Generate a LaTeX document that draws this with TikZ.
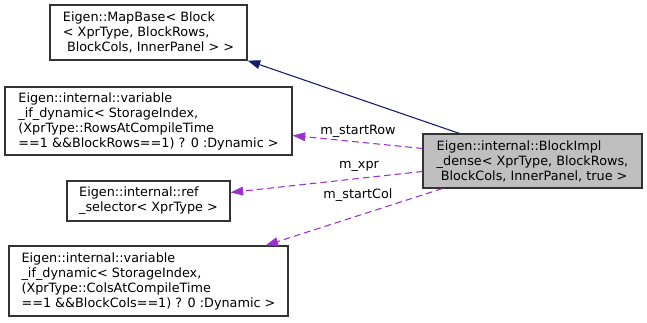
\documentclass[tikz,border=0pt]{standalone}
\usepackage{fontspec}
\setmainfont{DejaVu Sans}
\usetikzlibrary{calc,arrows.meta}
\begin{document}
\begin{tikzpicture}[x=0.75pt,y=-0.75pt,
  every node/.style={font=\fontsize{9.6pt}{11.25pt}\selectfont},
  classbox/.style={draw=black!80,line width=0.8pt,align=left,inner sep=0pt},
  focusbox/.style={classbox,fill=black!25},
  inherit/.style={draw={rgb,255:red,25;green,25;blue,112},line width=0.8pt,
    -{Triangle[length=9.5pt,width=6.5pt]}},
  member/.style={draw={rgb,255:red,154;green,50;blue,205},line width=0.8pt,
    dash pattern=on 5pt off 3pt,
    -{Triangle[length=9.5pt,width=6.5pt,fill={rgb,255:red,154;green,50;blue,205}]}},
  lbl/.style={inner sep=0pt}]
\useasboundingbox (0,0) rectangle (647,322);

\node[classbox,minimum width=197*0.75pt,minimum height=55*0.75pt] (A) at (148.5,32.5)
  {Eigen::MapBase< Block\\< XprType, BlockRows,\\\ BlockCols, InnerPanel > >};
\node[classbox,minimum width=287*0.75pt,minimum height=68*0.75pt] (B) at (148.5,121)
  {Eigen::internal::variable\\\_if\_dynamic< StorageIndex,\\(XprType::RowsAtCompileTime\\==1 \&\&BlockRows==1) ? 0 :Dynamic >};
\node[classbox,minimum width=163*0.75pt,minimum height=40*0.75pt] (C) at (148.5,201)
  {Eigen::internal::ref\\\_selector< XprType >};
\node[classbox,minimum width=279*0.75pt,minimum height=70*0.75pt] (D) at (148.5,281)
  {Eigen::internal::variable\\\_if\_dynamic< StorageIndex,\\(XprType::ColsAtCompileTime\\==1 \&\&BlockCols==1) ? 0 :Dynamic >};
\node[focusbox,minimum width=219*0.75pt,minimum height=54*0.75pt] (E) at (532.5,161)
  {Eigen::internal::BlockImpl\\\_dense< XprType, BlockRows,\\\ BlockCols, InnerPanel, true >};

% inheritance
\draw[inherit] ($(E.north west)+(37,0)$) -- (A.south east);
% member relations
\draw[member] ($(E.north west)+(0,15)$) -- ($(B.north east)+(0,49)$);
\draw[member] ($(E.north west)+(0,38)$) -- ($(C.north east)+(0,12)$);
\draw[member] ($(E.south west)+(20,0)$) -- ($(D.north east)+(-23,0)$);
% member names
\node[lbl] (l1) at (358,131) {m\_startRow};
\node[lbl] (l2) at (359,166) {m\_xpr};
\node[lbl] (l3) at (358,195) {m\_startCol};
\end{tikzpicture}
\end{document}
